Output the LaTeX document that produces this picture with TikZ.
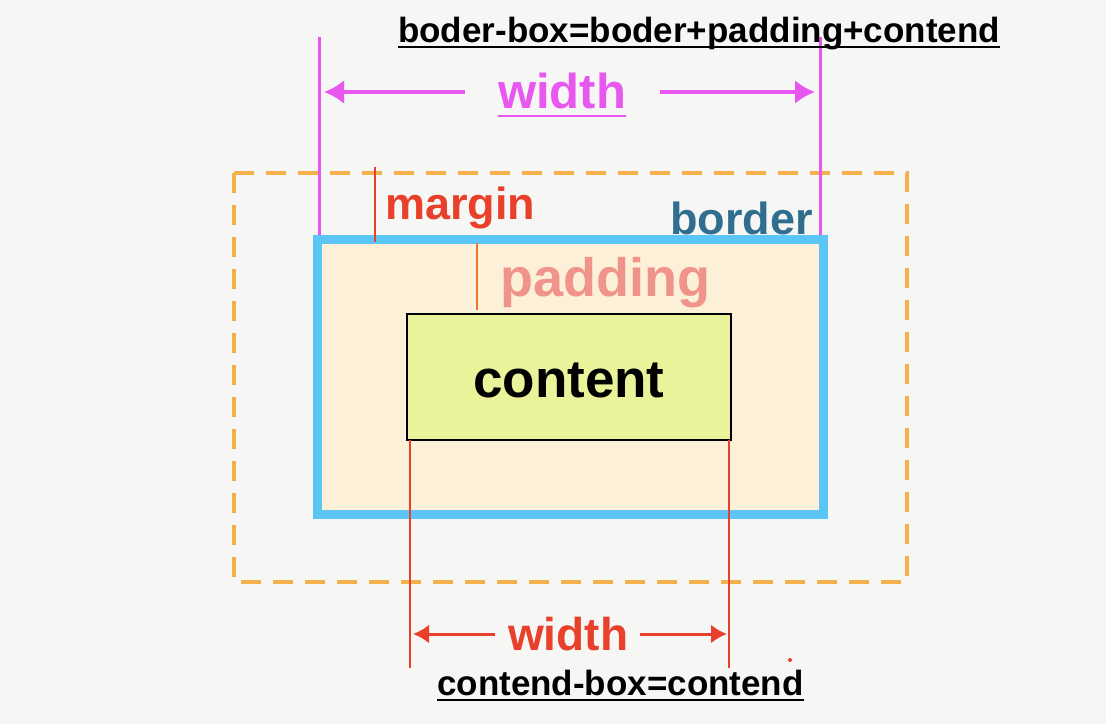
\documentclass[tikz,border=0pt]{standalone}
\usepackage{fontspec}
\setmainfont{Liberation Sans}
\usetikzlibrary{arrows.meta}
\definecolor{bgc}{HTML}{F6F6F4}
\definecolor{mag}{HTML}{E857F0}
\definecolor{redc}{HTML}{E8402A}
\definecolor{bordtxt}{HTML}{2F6E8F}
\definecolor{padtxt}{HTML}{F0938A}
\definecolor{orng}{HTML}{F5B04E}
\definecolor{bluec}{HTML}{5BC5F5}
\definecolor{cream}{HTML}{FCF0D8}
\definecolor{contfill}{HTML}{EAF29A}
\definecolor{padline}{HTML}{E8782F}
\begin{document}
\begin{tikzpicture}[x=1pt,y=-1pt,
  lbl/.style={inner sep=0pt,anchor=base west,font=\bfseries},
  magline/.style={draw=mag,line width=3pt},
  redline/.style={draw=redc,line width=2.5pt},
  magarrow/.style={draw=mag,line width=4pt,-{Latex[length=20pt,width=24pt]}},
  redarrow/.style={draw=redc,line width=3pt,-{Latex[length=16pt,width=19pt]}},
  uline/.style={line width=2.6pt}]
\fill[bgc] (0,0) rectangle (1106,724);
\useasboundingbox (0,0) rectangle (1106,724);
% margin box
\draw[orng,line width=4pt,dash pattern=on 20pt off 12pt] (234,173) rectangle (907,582);
% magenta guides
\coordinate (ml0) at (319,37); \coordinate (ml1) at (319,238);
\coordinate (mr0) at (820,37); \coordinate (mr1) at (820,238);
\draw[magline] (ml0) -- (ml1);
\draw[magline] (mr0) -- (mr1);
% border box
\draw[bluec,fill=cream,line width=9pt] (317,239) rectangle (823,514);
% content box
\node[draw=black,fill=contfill,line width=2.2pt,minimum width=324pt,minimum height=126pt,inner sep=0pt] (content) at (569,377) {};
\node[lbl,font=\bfseries\fontsize{53}{60}\selectfont] (ctext) at (473,397) {content};
% margin
\coordinate (mg0) at (375,167); \coordinate (mg1) at (375,242);
\draw[redline] (mg0) -- (mg1);
\node[lbl,text=redc,font=\bfseries\fontsize{45}{50}\selectfont] (margin) at (385,219) {margin};
% border label
\node[lbl,text=bordtxt,font=\bfseries\fontsize{45}{50}\selectfont] (border) at (670,234) {border};
% padding
\coordinate (pd0) at (477,243); \coordinate (pd1) at (477,310);
\draw[draw=padline,line width=2.2pt] (pd0) -- (pd1);
\node[lbl,text=padtxt,font=\bfseries\fontsize{54}{60}\selectfont] (padding) at (500,296) {padding};
% top width
\node[lbl,text=mag,font=\bfseries\fontsize{49}{55}\selectfont] (wtop) at (498,108) {width};
\draw[mag,uline] ([yshift=-8pt]wtop.base west) -- ([yshift=-8pt]wtop.base east);
\coordinate (wa0) at (465,92); \coordinate (wa1) at (324,92);
\coordinate (wb0) at (660,92); \coordinate (wb1) at (815,92);
\draw[magarrow] (wa0) -- (wa1);
\draw[magarrow] (wb0) -- (wb1);
% title
\node[lbl,font=\bfseries\fontsize{35}{40}\selectfont] (title) at (398,42) {boder-box=boder+padding+contend};
\draw[black,uline] ([yshift=-5pt]title.base west) -- ([yshift=-5pt]title.base east);
% bottom guides
\coordinate (bl0) at (410,440); \coordinate (bl1) at (410,668);
\coordinate (br0) at (729,440); \coordinate (br1) at (729,668);
\draw[redline] (bl0) -- (bl1);
\draw[redline] (br0) -- (br1);
\coordinate (ba0) at (495,634); \coordinate (ba1) at (413,634);
\coordinate (bb0) at (640,634); \coordinate (bb1) at (727,634);
\draw[redarrow] (ba0) -- (ba1);
\draw[redarrow] (bb0) -- (bb1);
\node[lbl,text=redc,font=\bfseries\fontsize{46}{52}\selectfont] (wbot) at (508,650) {width};
\node[lbl,font=\bfseries\fontsize{35}{40}\selectfont] (sub) at (437,695) {contend-box=contend};
\draw[black,uline] ([yshift=-5pt]sub.base west) -- ([yshift=-5pt]sub.base east);
\fill[redc] (790,660) circle (2pt);
\end{tikzpicture}
\end{document}
